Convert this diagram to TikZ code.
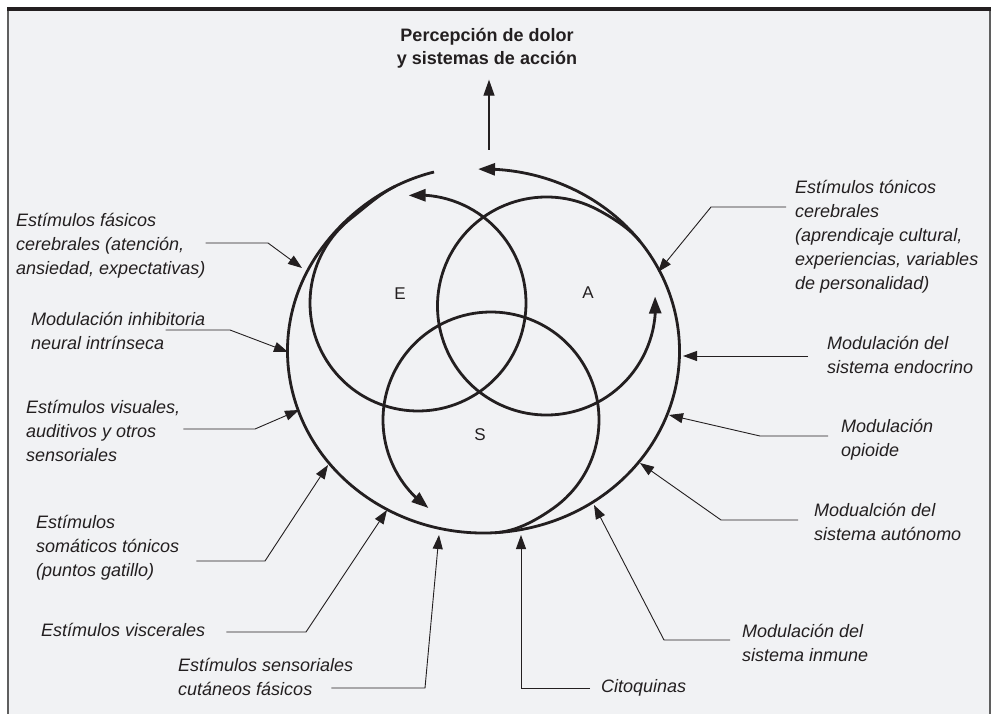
\documentclass[tikz,border=0pt]{standalone}
\usepackage{fontspec}
\setmainfont{Liberation Sans}
\usetikzlibrary{arrows.meta,bending,calc,positioning}
\definecolor{painink}{RGB}{35,31,32}
\definecolor{panelgray}{RGB}{241,242,244}
\definecolor{framegray}{RGB}{95,95,95}
\tikzset{
  ring/.style={line width=2.8pt, draw=painink},
  ringtip/.style={-{Triangle[length=17pt,width=12pt]}},
  leader/.style={line width=0.9pt, draw=painink, -{Triangle[length=14pt,width=10pt]}},
  lbl/.style={font=\itshape\fontsize{18}{24}\selectfont, align=left, inner sep=0pt, text=painink},
  letter/.style={font=\fontsize{17}{20}\selectfont, inner sep=0pt, text=painink},
}
\begin{document}
\begin{tikzpicture}[x=1pt,y=-1pt]
    % Panel
    \useasboundingbox (0,0) rectangle (992,714);
    \fill[panelgray] (7,7) rectangle (991,714);
    \draw[framegray, line width=1.6pt] (7.8,10) -- (7.8,714);
    \draw[framegray, line width=1.6pt] (990.2,10) -- (990.2,714);
    \fill[painink] (7,7) rectangle (991,11.5);

    % Title and output arrow
    \node[font=\bfseries\fontsize{18}{23}\selectfont, align=center, inner sep=0pt, text=painink] (title) at (487,48.5) {Percepción de dolor\\y sistemas de acción};
    \coordinate (pin) at (489,150);
    \draw[line width=1.2pt, painink, -{Triangle[length=16pt,width=11pt]}] (pin) -- ($(pin |- title.south)+(0,11)$);

    % Centres of the rings
    \coordinate (cO) at (483.5,351);
    \coordinate (cE) at (418,303);
    \coordinate (cA) at (546.5,306);
    \coordinate (cS) at (491,420);
    % where the inner rings leave the outer one
    \coordinate (oStart) at (434,172);
    \coordinate (eJoin) at (395.6,186.1);
    \coordinate (aJoin) at (640,241.4);
    \coordinate (sJoin) at (495,532.7);

    % Rings
    \draw[ring, ringtip] (oStart) .. controls +(-44.4,11) and +(27.6,-36.6) .. ($(cO)+(215:196 and 182)$)
        arc[start angle=215, end angle=-91.6, x radius=196, y radius=182];
    \draw[ring, ringtip] (eJoin) .. controls +(-16.2,7.9) and +(14.2,-11.1) .. ($(cE)+(232:108)$)
        arc[start angle=232, end angle=-95, radius=108];
    \draw[ring, ringtip] (aJoin) .. controls +(-10.7,-13.2) and +(15,8) .. ($(cA)+(-62:109)$)
        arc[start angle=-62, end angle=-365, radius=109];
    \draw[ring, ringtip] (sJoin) .. controls +(21,-1.2) and +(-17.2,12.1) .. ($(cS)+(55:108)$)
        arc[start angle=55, end angle=-234.6, radius=108];

    \node[letter] (lE) at (400,294) {E};
    \node[letter] (lA) at (588,293) {A};
    \node[letter] (lS) at (480,435) {S};

    % Left labels
    \node[lbl, anchor=west] (fasicos) at (16,246) {Estímulos fásicos\\cerebrales (atención,\\ansiedad, expectativas)};
    \node[lbl, anchor=west] (inhib) at (31,330.5) {Modulación inhibitoria\\neural intrínseca};
    \node[lbl, anchor=west] (visual) at (26,431) {Estímulos visuales,\\auditivos y otros\\sensoriales};
    \node[lbl, anchor=west] (somatic) at (36,548) {Estímulos\\somáticos tónicos\\(puntos gatillo)};
    \node[lbl, anchor=west] (visceral) at (41,630) {Estímulos viscerales};
    \node[lbl, anchor=west] (cutaneo) at (178,677) {Estímulos sensoriales\\cutáneos fásicos};

    % Right labels
    \node[lbl, anchor=west] (citoq) at (601,688) {Citoquinas};
    \node[lbl, anchor=west] (inmune) at (742,643) {Modulación del\\sistema inmune};
    \node[lbl, anchor=west] (autonomo) at (814,522) {Modualción del\\sistema autónomo};
    \node[lbl, anchor=west] (opioide) at (841,440) {Modulación\\opioide};
    \node[lbl, anchor=west] (endocr) at (827,355) {Modulación del\\sistema endocrino};
    \node[lbl, anchor=west] (tonicos) at (795,237) {Estímulos tónicos\\cerebrales\\(aprendicaje cultural,\\experiencias, variables\\de personalidad)};

    % Bends and tips of the leaders
    \coordinate (fasicos-b) at (268,243);  \coordinate (fasicos-t) at (302,268);
    \coordinate (inhib-b) at (230,330);    \coordinate (inhib-t) at (288,352);
    \coordinate (visual-b) at (255,429);   \coordinate (visual-t) at (299,410);
    \coordinate (somatic-b) at (265,561);  \coordinate (somatic-t) at (328,465);
    \coordinate (visceral-b) at (306,632); \coordinate (visceral-t) at (387,510);
    \coordinate (cutaneo-b) at (425,688);  \coordinate (cutaneo-t) at (439,535);
    \coordinate (citoq-b) at (521,688);    \coordinate (citoq-t) at (521,535);
    \coordinate (inmune-b) at (664,640);   \coordinate (inmune-t) at (594,505);
    \coordinate (autonomo-b) at (721,520); \coordinate (autonomo-t) at (640,463);
    \coordinate (opioide-b) at (760,436);  \coordinate (opioide-t) at (669,415);
    \coordinate (endocr-t) at (683,356);
    \coordinate (tonicos-b) at (711,207);  \coordinate (tonicos-t) at (658,272);

    % Leaders
    \draw[leader] (fasicos.east |- fasicos-b) -- (fasicos-b) -- (fasicos-t);
    \draw[leader] ($(inhib.east |- inhib-b)+(-40,0)$) -- (inhib-b) -- (inhib-t);
    \draw[leader] ($(visual.east |- visual-b)+(3,0)$) -- (visual-b) -- (visual-t);
    \draw[leader] ($(somatic.east |- somatic-b)+(17,0)$) -- (somatic-b) -- (somatic-t);
    \draw[leader] ($(visceral.east |- visceral-b)+(21,0)$) -- (visceral-b) -- (visceral-t);
    \draw[leader] ($(cutaneo.east |- cutaneo-b)+(-22,0)$) -- (cutaneo-b) -- (cutaneo-t);
    \draw[leader] ($(citoq.west |- citoq-b)+(-11,0)$) -- (citoq-b) -- (citoq-t);
    \draw[leader] ($(inmune.west |- inmune-b)+(-12,0)$) -- (inmune-b) -- (inmune-t);
    \draw[leader] ($(autonomo.west |- autonomo-b)+(-16,0)$) -- (autonomo-b) -- (autonomo-t);
    \draw[leader] ($(opioide.west |- opioide-b)+(-13,0)$) -- (opioide-b) -- (opioide-t);
    \draw[leader] ($(endocr.west |- endocr-t)+(-19,0)$) -- (endocr-t);
    \draw[leader] ($(tonicos.west |- tonicos-b)+(-9,0)$) -- (tonicos-b) -- (tonicos-t);
\end{tikzpicture}
\end{document}
